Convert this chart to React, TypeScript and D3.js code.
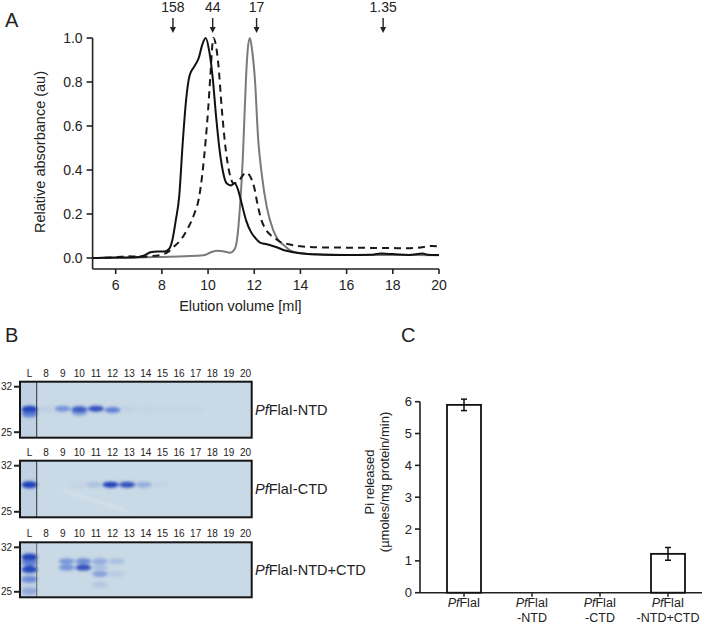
import React from "react";
import * as d3 from "d3";

// ---------- Panel A data (elution profiles) ----------
const ntdVol = [5, 6, 7, 7.3, 7.5, 7.8, 8.1, 8.3, 8.45, 8.6, 8.75, 8.9, 9.05, 9.2, 9.4, 9.6, 9.75, 9.9, 10.05, 10.2, 10.35, 10.5, 10.65, 10.8, 11.0, 11.15, 11.3, 11.45, 11.65, 11.85, 12.05, 12.25, 12.45, 12.7, 13.0, 13.3, 13.7, 14.1, 15, 16, 17, 17.5, 18, 18.7, 19.3, 19.5, 20];
const ntdAbs = [0.0, 0.002, 0.005, 0.015, 0.026, 0.03, 0.03, 0.04, 0.08, 0.17, 0.28, 0.52, 0.72, 0.83, 0.87, 0.91, 0.97, 1.0, 0.94, 0.82, 0.64, 0.49, 0.39, 0.34, 0.33, 0.34, 0.31, 0.25, 0.17, 0.12, 0.09, 0.07, 0.065, 0.058, 0.048, 0.035, 0.026, 0.02, 0.015, 0.014, 0.015, 0.02, 0.018, 0.014, 0.02, 0.015, 0.014];

const mixVol = [5, 6, 6.5, 7, 7.5, 8, 8.3, 8.5, 8.8, 9.1, 9.4, 9.6, 9.75, 9.9, 10.0, 10.1, 10.23, 10.35, 10.44, 10.6, 10.78, 10.92, 11.1, 11.3, 11.5, 11.65, 11.8, 12.0, 12.15, 12.32, 12.5, 12.7, 12.9, 13.1, 13.4, 14.1, 15, 16, 17, 18, 18.6, 19.2, 19.7, 20];
const mixAbs = [0.0, 0.003, 0.008, 0.006, 0.008, 0.015, 0.03, 0.05, 0.08, 0.13, 0.2, 0.27, 0.38, 0.54, 0.67, 0.83, 1.0, 0.96, 0.885, 0.67, 0.48, 0.39, 0.34, 0.347, 0.375, 0.388, 0.375, 0.32, 0.24, 0.17, 0.13, 0.105, 0.09, 0.075, 0.065, 0.052, 0.048, 0.047, 0.046, 0.045, 0.044, 0.048, 0.055, 0.052];

const ctdVol = [5, 7, 8, 9, 9.8, 10.1, 10.4, 10.7, 10.95, 11.15, 11.25, 11.38, 11.5, 11.56, 11.64, 11.72, 11.81, 11.9, 12.03, 12.17, 12.32, 12.54, 12.82, 13.05, 13.26, 13.55, 14, 15, 16, 17, 18, 19, 20];
const ctdAbs = [0.0, 0.002, 0.005, 0.008, 0.012, 0.025, 0.033, 0.03, 0.024, 0.04, 0.08, 0.23, 0.445, 0.6, 0.81, 0.95, 1.0, 0.95, 0.81, 0.54, 0.385, 0.233, 0.127, 0.08, 0.06, 0.035, 0.022, 0.016, 0.014, 0.014, 0.014, 0.014, 0.013];

const markerVol = [8.48, 10.2, 12.1, 17.58];
const markerLabels = ["158", "44", "17", "1.35"];

const aXTicks = [6, 8, 10, 12, 14, 16, 18, 20];
const aYTicks = [0, 0.2, 0.4, 0.6, 0.8, 1.0];

// ---------- Panel B data (gels) ----------
const laneLabels = ["L", "8", "9", "10", "11", "12", "13", "14", "15", "16", "17", "18", "19", "20"];
const sizeMarkers = [32, 25];
const gelNames = ["-NTD", "-CTD", "-NTD+CTD"];

// bands: lane, apparent size (kDa), intensity
const ntdBandLane = ["L", "L", "8", "9", "10", "10", "11", "12", "13", "14", "15", "16", "17"];
const ntdBandKda = [28.3, 27.6, 28.3, 28.4, 28.3, 27.8, 28.4, 28.2, 28.3, 28.3, 28.3, 28.3, 28.3];
const ntdBandLevel = [1.0, 0.7, 0.08, 0.55, 0.8, 0.45, 0.85, 0.7, 0.06, 0.04, 0.03, 0.03, 0.03];

const ctdBandLane = ["L", "10", "11", "12", "13", "14", "15"];
const ctdBandKda = [28.9, 28.9, 28.9, 28.9, 28.9, 28.9, 28.9];
const ctdBandLevel = [1.0, 0.04, 0.18, 1.0, 0.85, 0.35, 0.05];

const mixBandLane = ["L", "L", "L", "L", "L", "9", "9", "10", "10", "11", "11", "11", "11", "12", "12"];
const mixBandKda = [30.3, 29.4, 28.3, 26.8, 25.1, 29.6, 28.6, 29.6, 28.6, 29.6, 28.6, 27.6, 26.0, 29.6, 27.6];
const mixBandLevel = [0.95, 0.7, 0.9, 0.6, 0.35, 0.5, 0.55, 0.6, 0.85, 0.35, 0.2, 0.45, 0.15, 0.2, 0.12];

// ---------- Panel C data (ATPase activity) ----------
const actCats = ["PfFlaI", "PfFlaI-NTD", "PfFlaI-CTD", "PfFlaI-NTD+CTD"];
const actLine2 = ["", "-NTD", "-CTD", "-NTD+CTD"];
const actMean = [5.9, 0, 0, 1.22];
const actErr = [0.18, 0, 0, 0.2];
const cYTicks = [0, 1, 2, 3, 4, 5, 6];

const FONT = "'Liberation Sans', Arial, Helvetica, sans-serif";

function PfLabel({ x, y, suffix, size, anchor = "start" }: any) {
  return (
    <text x={x} y={y} fontSize={size} fontFamily={FONT} textAnchor={anchor} fill="#222">
      <tspan fontStyle="italic">Pf</tspan>
      <tspan>{"FlaI" + suffix}</tspan>
    </text>
  );
}

export default function App() {
  // Panel A scales
  const ax = d3.scaleLinear().domain([5, 20]).range([92.6, 439]);
  const ay = d3.scaleLinear().domain([0, 1]).range([258, 38]);
  const aAxisY = 269;
  const line = d3
    .line<[number, number]>()
    .x((d) => ax(d[0]))
    .y((d) => ay(d[1]))
    .curve(d3.curveMonotoneX);
  const toPts = (v: number[], a: number[]) => v.map((vv, i) => [vv, a[i]] as [number, number]);

  // Panel B layout
  const lane = d3.scalePoint<string>().domain(laneLabels).range([29.5, 245.5]);
  const gels = [
    { top: 381.7, bottom: 437.7, shift: 0, lanes: ntdBandLane, kda: ntdBandKda, lvl: ntdBandLevel },
    { top: 460.7, bottom: 517.3, shift: -2, lanes: ctdBandLane, kda: ctdBandKda, lvl: ctdBandLevel },
    { top: 542.3, bottom: 597.3, shift: 4, lanes: mixBandLane, kda: mixBandKda, lvl: mixBandLevel },
  ];
  const gelLeft = 20;
  const gelRight = 251.7;

  // Panel C scales
  const cx = d3.scalePoint<string>().domain(actCats).range([430, 702]).padding(0.5);
  const cy = d3.scaleLinear().domain([0, 6]).range([592.7, 401.7]);
  const barW = 34;

  return (
    <div style={{ position: "absolute", left: 0, top: 0 }}>
      <svg width={712} height={627} style={{ display: "block", background: "#fff" }}>
        <defs>
          <filter id="bandBlur" x="-50%" y="-100%" width="200%" height="300%">
            <feGaussianBlur stdDeviation="1.4" />
          </filter>
          <filter id="softBlur" x="-20%" y="-20%" width="140%" height="140%">
            <feGaussianBlur stdDeviation="0.8" />
          </filter>
        </defs>

        {/* ================= Panel A ================= */}
        <text x={5} y={27} fontSize={20} fontFamily={FONT} fill="#222">A</text>

        {markerVol.map((v, i) => (
          <g key={"m" + i}>
            <text x={ax(v)} y={12} fontSize={14} fontFamily={FONT} textAnchor="middle" fill="#222">
              {markerLabels[i]}
            </text>
            <line x1={ax(v)} x2={ax(v)} y1={18} y2={28} stroke="#222" strokeWidth={1.4} />
            <path d={`M${ax(v) - 3},${27} L${ax(v) + 3},${27} L${ax(v)},${33} Z`} fill="#222" />
          </g>
        ))}

        <line x1={ax(5)} x2={ax(5)} y1={ay(1)} y2={aAxisY} stroke="#222" strokeWidth={1.6} />
        <line x1={ax(5)} x2={ax(20)} y1={aAxisY} y2={aAxisY} stroke="#222" strokeWidth={1.6} />
        {aYTicks.map((t) => (
          <g key={"ay" + t}>
            <line x1={ax(5) - 6} x2={ax(5)} y1={ay(t)} y2={ay(t)} stroke="#222" strokeWidth={1.6} />
            <text x={ax(5) - 10} y={ay(t) + 5} fontSize={14} fontFamily={FONT} textAnchor="end" fill="#222">
              {t.toFixed(1)}
            </text>
          </g>
        ))}
        {aXTicks.map((t) => (
          <g key={"ax" + t}>
            <line x1={ax(t)} x2={ax(t)} y1={aAxisY} y2={aAxisY + 5} stroke="#222" strokeWidth={1.6} />
            <text x={ax(t)} y={aAxisY + 21} fontSize={14} fontFamily={FONT} textAnchor="middle" fill="#222">
              {t}
            </text>
          </g>
        ))}
        <text x={ax(11.4)} y={311} fontSize={14.5} fontFamily={FONT} textAnchor="middle" fill="#222">
          Elution volume [ml]
        </text>
        <text
          transform={`translate(45,152) rotate(-90)`}
          fontSize={14.5}
          fontFamily={FONT}
          textAnchor="middle"
          fill="#222"
        >
          Relative absorbance (au)
        </text>

        <path d={line(toPts(ctdVol, ctdAbs)) || ""} fill="none" stroke="#7a7a7a" strokeWidth={2} />
        <path d={line(toPts(mixVol, mixAbs)) || ""} fill="none" stroke="#1a1a1a" strokeWidth={2} strokeDasharray="7,5" />
        <path d={line(toPts(ntdVol, ntdAbs)) || ""} fill="none" stroke="#111" strokeWidth={2} />

        {/* ================= Panel B ================= */}
        <text x={5} y={342} fontSize={20} fontFamily={FONT} fill="#222">B</text>
        {gels.map((g, gi) => {
          const my = d3
            .scaleLog()
            .domain([sizeMarkers[0], sizeMarkers[1]])
            .range([g.top + 5, g.bottom - 5.5]);
          return (
            <g key={"gel" + gi}>
              {laneLabels.map((l) => (
                <text key={l} x={lane(l)} y={g.top - 5} fontSize={10} fontFamily={FONT} textAnchor="middle" fill="#222">
                  {l}
                </text>
              ))}
              <rect x={gelLeft} y={g.top} width={gelRight - gelLeft} height={g.bottom - g.top} fill="#c9d9e6" />
              <rect x={gelLeft} y={g.top} width={16.5} height={g.bottom - g.top} fill="#c0d1e3" />
              <g filter="url(#bandBlur)">
                {g.lanes.map((l, i) => (
                  <ellipse
                    key={"b" + i}
                    cx={(lane(l) || 0) + (l === "L" ? 0 : g.shift)}
                    cy={my(g.kda[i])}
                    rx={l === "L" ? 8 : 8}
                    ry={l === "L" ? 3.6 : 3}
                    fill={g.lvl[i] > 0.75 ? "#1d3fb8" : "#3a62cc"}
                    opacity={Math.min(1, g.lvl[i] * 1.05)}
                  />
                ))}
              </g>
              {gi === 1 && (
                <g opacity={0.6} filter="url(#softBlur)">
                  <line x1={62} y1={489} x2={125} y2={509} stroke="#e6eef6" strokeWidth={1} />
                  <line x1={65} y1={492} x2={128} y2={512} stroke="#e6eef6" strokeWidth={1} />
                </g>
              )}
              <line x1={36.7} x2={36.7} y1={g.top} y2={g.bottom} stroke={gi === 2 ? "#666" : "#333"} strokeWidth={1} />
              <rect
                x={gelLeft}
                y={g.top}
                width={gelRight - gelLeft}
                height={g.bottom - g.top}
                fill="none"
                stroke="#151515"
                strokeWidth={2}
              />
              {sizeMarkers.map((m) => (
                <g key={"sm" + m}>
                  <line x1={14} x2={gelLeft} y1={my(m)} y2={my(m)} stroke="#222" strokeWidth={2} />
                  <text x={12} y={my(m) + 3.5} fontSize={10} fontFamily={FONT} textAnchor="end" fill="#222">
                    {m}
                  </text>
                </g>
              ))}
              <PfLabel x={255} y={(g.top + g.bottom) / 2 + 5} suffix={gelNames[gi]} size={14.5} />
            </g>
          );
        })}

        {/* ================= Panel C ================= */}
        <text x={401} y={342} fontSize={20} fontFamily={FONT} fill="#222">C</text>
        <line x1={420} x2={420} y1={cy(6)} y2={cy(0)} stroke="#222" strokeWidth={1.6} />
        <line x1={420} x2={702} y1={cy(0)} y2={cy(0)} stroke="#222" strokeWidth={1.6} />
        {cYTicks.map((t) => (
          <g key={"cy" + t}>
            <line x1={415} x2={420} y1={cy(t)} y2={cy(t)} stroke="#222" strokeWidth={1.6} />
            <text x={412} y={cy(t) + 4.5} fontSize={13} fontFamily={FONT} textAnchor="end" fill="#222">
              {t}
            </text>
          </g>
        ))}
        <text transform={`translate(374,482) rotate(-90)`} fontSize={13} fontFamily={FONT} textAnchor="middle" fill="#222">
          Pi released
        </text>
        <text transform={`translate(389,482) rotate(-90)`} fontSize={13} fontFamily={FONT} textAnchor="middle" fill="#222">
          (µmoles/mg protein/min)
        </text>
        {actCats.map((c, i) => {
          const xc = cx(c) || 0;
          return (
            <g key={"c" + i}>
              {actMean[i] > 0 && (
                <rect
                  x={xc - barW / 2}
                  y={cy(actMean[i])}
                  width={barW}
                  height={cy(0) - cy(actMean[i])}
                  fill="#fff"
                  stroke="#111"
                  strokeWidth={1.8}
                />
              )}
              {actErr[i] > 0 && (
                <g stroke="#111" strokeWidth={1.5}>
                  <line x1={xc} x2={xc} y1={cy(actMean[i] + actErr[i])} y2={cy(actMean[i] - actErr[i])} />
                  <line x1={xc - 3} x2={xc + 3} y1={cy(actMean[i] + actErr[i])} y2={cy(actMean[i] + actErr[i])} />
                  <line x1={xc - 3} x2={xc + 3} y1={cy(actMean[i] - actErr[i])} y2={cy(actMean[i] - actErr[i])} />
                </g>
              )}
              <line x1={xc} x2={xc} y1={cy(0)} y2={cy(0) + 4} stroke="#222" strokeWidth={1.5} />
              <PfLabel x={xc} y={607} suffix="" size={12.5} anchor="middle" />
              {actLine2[i] && (
                <text x={xc} y={622} fontSize={12.5} fontFamily={FONT} textAnchor="middle" fill="#222">
                  {actLine2[i]}
                </text>
              )}
            </g>
          );
        })}
      </svg>
    </div>
  );
}
